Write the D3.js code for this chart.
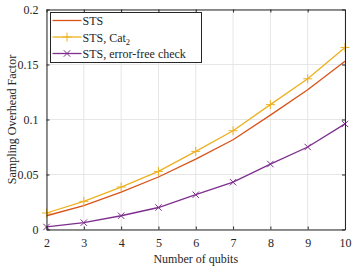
<!DOCTYPE html>
<html>
<head>
<meta charset="utf-8">
<script src="https://cdn.jsdelivr.net/npm/d3@7"></script>
<style>
  body { margin: 0; background: #fff; }
  svg text { font-family: "Liberation Serif", "Times New Roman", serif; fill: #262626; }
</style>
</head>
<body>
<script>
    var qubits = [2, 3, 4, 5, 6, 7, 8, 9, 10];
    var sts = [0.0125, 0.0217, 0.034, 0.0477, 0.064, 0.0816, 0.104, 0.127, 0.153];
    var stsCat = [0.015, 0.0256, 0.0386, 0.0528, 0.071, 0.0898, 0.1135, 0.137, 0.1655];
    var stsFree = [0.0023, 0.0062, 0.0125, 0.020, 0.0316, 0.043, 0.0595, 0.075, 0.096];
    var yTicks = [0, 0.05, 0.1, 0.15, 0.2];
    var yTickLabels = ["0", "0.05", "0.1", "0.15", "0.2"];
    var seriesNames = ["STS", "STS, Cat", "STS, error-free check"];

    var W = 357, H = 269,
        m = {left: 46.5, right: 12, top: 9.5, bottom: 39.5};

    var x = d3.scaleLinear().domain([2, 10]).range([m.left, W - m.right]);
    var y = d3.scaleLinear().domain([0, 0.2]).range([H - m.bottom, m.top]);

    var svg = d3.select("body").append("svg")
        .attr("width", W)
        .attr("height", H)
        .attr("font-family", "Liberation Serif");

    // grid
    svg.append("g").selectAll("line")
        .data(qubits)
        .enter().append("line")
        .attr("x1", function(d) { return x(d); })
        .attr("x2", function(d) { return x(d); })
        .attr("y1", y(0)).attr("y2", y(0.2))
        .attr("stroke", "#e6e6e6");
    svg.append("g").selectAll("line")
        .data(yTicks)
        .enter().append("line")
        .attr("y1", function(d) { return y(d); })
        .attr("y2", function(d) { return y(d); })
        .attr("x1", x(2)).attr("x2", x(10))
        .attr("stroke", "#e6e6e6");

    var series = [
        {name: seriesNames[0], values: sts, color: "#D95319", marker: null},
        {name: seriesNames[1], values: stsCat, color: "#EDB120", marker: "plus"},
        {name: seriesNames[2], values: stsFree, color: "#7E2F8E", marker: "cross"}
    ];

    var line = d3.line()
        .x(function(d, i) { return x(qubits[i]); })
        .y(function(d) { return y(d); });

    function drawMarker(g, kind, cx, cy, col) {
        var s = kind == "plus" ? 4.5 : 3.2;
        if (kind == "plus") {
            g.append("path").attr("d", "M" + (cx - s) + "," + cy + "H" + (cx + s) + "M" + cx + "," + (cy - s) + "V" + (cy + s))
                .attr("stroke", col).attr("stroke-width", 1).attr("fill", "none");
        } else if (kind == "cross") {
            g.append("path").attr("d", "M" + (cx - s) + "," + (cy - s) + "L" + (cx + s) + "," + (cy + s) + "M" + (cx - s) + "," + (cy + s) + "L" + (cx + s) + "," + (cy - s))
                .attr("stroke", col).attr("stroke-width", 1).attr("fill", "none");
        }
    }

    series.forEach(function(s) {
        var g = svg.append("g");
        g.append("path")
            .datum(s.values)
            .attr("d", line)
            .attr("fill", "none")
            .attr("stroke", s.color)
            .attr("stroke-width", 1.3);
        if (s.marker) {
            s.values.forEach(function(v, i) {
                drawMarker(g, s.marker, x(qubits[i]), y(v), s.color);
            });
        }
    });

    // axes, box on
    svg.append("g")
        .attr("transform", "translate(0," + y(0) + ")")
        .call(d3.axisBottom(x).tickValues(qubits).tickSizeInner(-3).tickSizeOuter(0).tickPadding(9));
    svg.append("g")
        .attr("transform", "translate(" + x(2) + ",0)")
        .call(d3.axisLeft(y).tickValues(yTicks).tickFormat(function(d, i) { return yTickLabels[i]; })
            .tickSizeInner(-3).tickSizeOuter(0).tickPadding(8));
    svg.append("g")
        .attr("transform", "translate(0," + y(0.2) + ")")
        .call(d3.axisTop(x).tickValues(qubits).tickSizeInner(-3).tickSizeOuter(0).tickFormat(""));
    svg.append("g")
        .attr("transform", "translate(" + x(10) + ",0)")
        .call(d3.axisRight(y).tickValues(yTicks).tickSizeInner(-3).tickSizeOuter(0).tickFormat(""));

    svg.selectAll("g").attr("font-family", null);
    svg.selectAll(".domain").attr("stroke", "#262626");
    svg.selectAll(".tick line").attr("stroke", "#262626");
    svg.selectAll(".tick text")
        .style("font-size", "12px")
        .attr("fill", "#262626");

    svg.append("text")
        .attr("x", (x(2) + x(10)) / 2)
        .attr("y", 263)
        .attr("text-anchor", "middle")
        .style("font-size", "12px")
        .text("Number of qubits");

    svg.append("text")
        .attr("transform", "translate(16," + (y(0.1)) + ") rotate(-90)")
        .attr("text-anchor", "middle")
        .style("font-size", "12px")
        .text("Sampling Overhead Factor");

    // legend
    var lg = svg.append("g").attr("transform", "translate(50.5,12.5)");
    lg.append("rect")
        .attr("width", 151).attr("height", 50)
        .attr("fill", "#fff").attr("stroke", "#262626").attr("stroke-width", 1);
    series.forEach(function(s, i) {
        var cy = 8 + i * 16.5;
        lg.append("line")
            .attr("x1", 2).attr("x2", 31)
            .attr("y1", cy).attr("y2", cy)
            .attr("stroke", s.color).attr("stroke-width", 1.3);
        if (s.marker) drawMarker(lg, s.marker, 16.5, cy, s.color);
        var t = lg.append("text")
            .attr("x", 32).attr("y", cy + 4.5)
            .style("font-size", "12px")
            .text(s.name);
        if (i == 1) {
            t.append("tspan").attr("dy", 3).style("font-size", "8.5px").text("2");
        }
    });
</script>
</body>
</html>
